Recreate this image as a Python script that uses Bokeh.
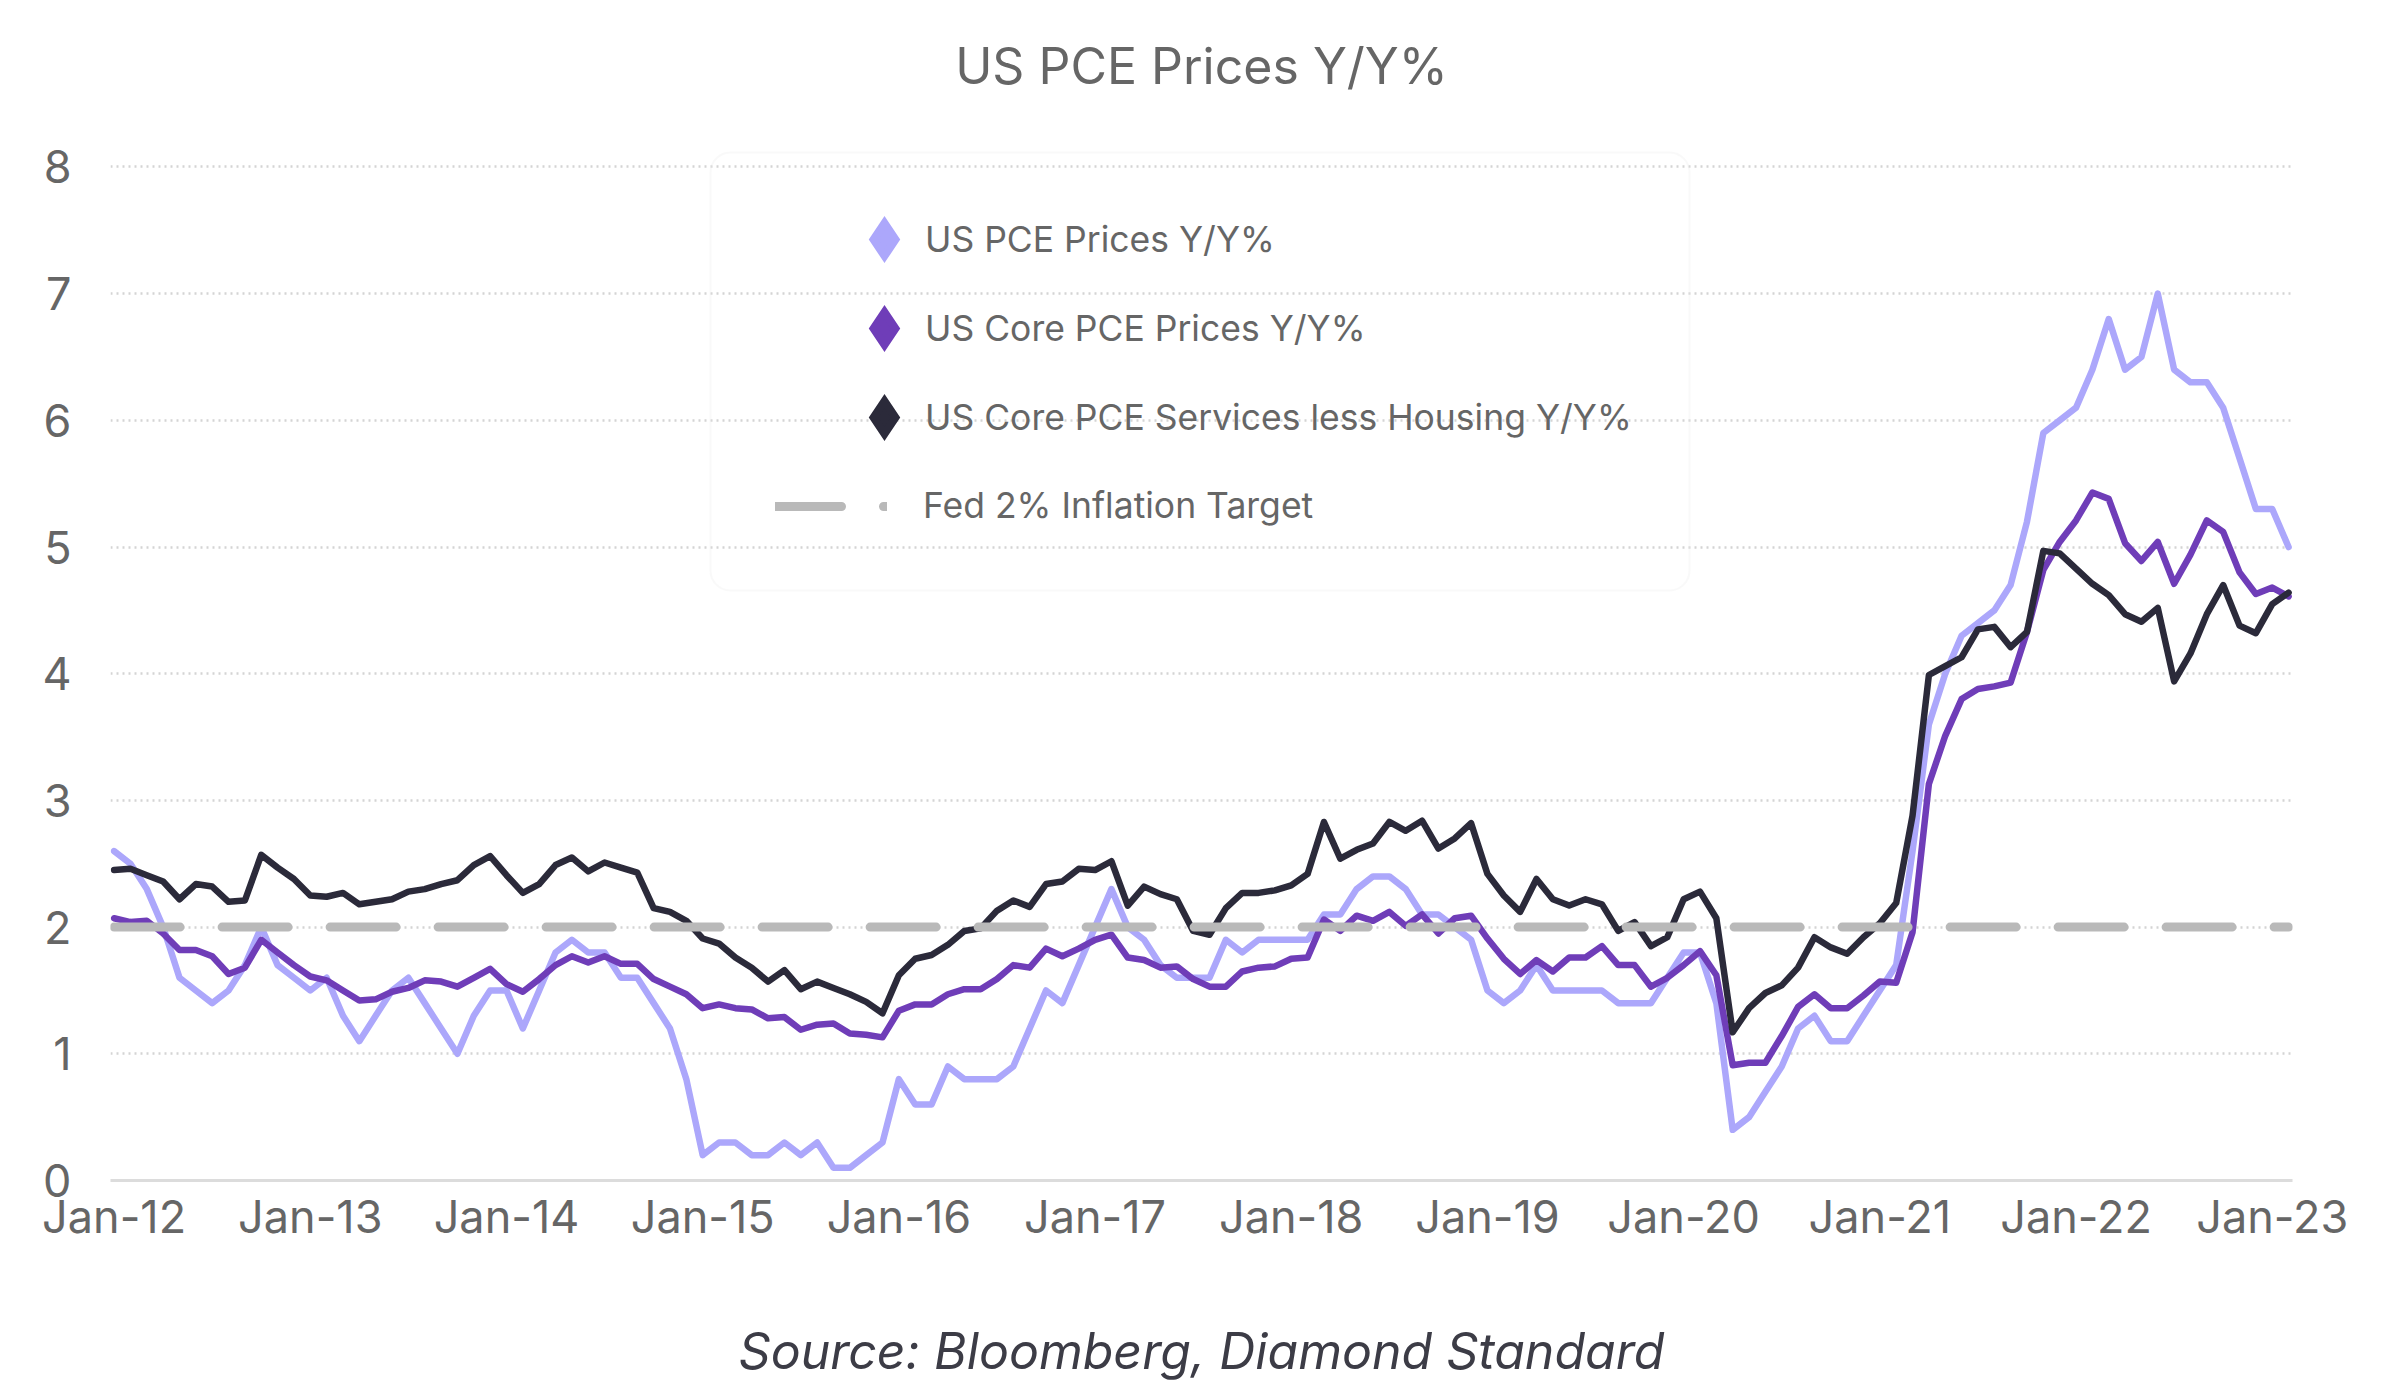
from bokeh.plotting import figure
from bokeh.models import (Range1d, FixedTicker, Legend, LegendItem, Title,
                          BoxAnnotation, ColumnDataSource)
from bokeh.embed import file_html
from bokeh.resources import INLINE

# ---------------- data (monthly, Y/Y %) ----------------
x_tick_labels = ["Jan-12", "Jan-13", "Jan-14", "Jan-15", "Jan-16", "Jan-17",
                 "Jan-18", "Jan-19", "Jan-20", "Jan-21", "Jan-22", "Jan-23"]
y_ticks = [0, 1, 2, 3, 4, 5, 6, 7, 8]

pce = [2.6, 2.5, 2.3, 2.0, 1.6, 1.5, 1.4, 1.5, 1.7, 2.0, 1.7, 1.6,
       1.5, 1.6, 1.3, 1.1, 1.3, 1.5, 1.6, 1.4, 1.2, 1.0, 1.3, 1.5,
       1.5, 1.2, 1.5, 1.8, 1.9, 1.8, 1.8, 1.6, 1.6, 1.4, 1.2, 0.8,
       0.2, 0.3, 0.3, 0.2, 0.2, 0.3, 0.2, 0.3, 0.1, 0.1, 0.2, 0.3,
       0.8, 0.6, 0.6, 0.9, 0.8, 0.8, 0.8, 0.9, 1.2, 1.5, 1.4, 1.7,
       2.0, 2.3, 2.0, 1.9, 1.7, 1.6, 1.6, 1.6, 1.9, 1.8, 1.9, 1.9,
       1.9, 1.9, 2.1, 2.1, 2.3, 2.4, 2.4, 2.3, 2.1, 2.1, 2.0, 1.9,
       1.5, 1.4, 1.5, 1.7, 1.5, 1.5, 1.5, 1.5, 1.4, 1.4, 1.4, 1.6,
       1.8, 1.8, 1.4, 0.4, 0.5, 0.7, 0.9, 1.2, 1.3, 1.1, 1.1, 1.3,
       1.5, 1.7, 2.6, 3.6, 4.0, 4.3, 4.4, 4.5, 4.7, 5.2, 5.9, 6.0,
       6.1, 6.4, 6.8, 6.4, 6.5, 7.0, 6.4, 6.3, 6.3, 6.1, 5.7, 5.3,
       5.3, 5.0]

core_pce = [2.07, 2.04, 2.05, 1.95, 1.82, 1.82, 1.77, 1.63, 1.68, 1.90, 1.80, 1.70,
            1.61, 1.58, 1.50, 1.42, 1.43, 1.49, 1.52, 1.58, 1.57, 1.53, 1.60, 1.67,
            1.55, 1.49, 1.59, 1.70, 1.77, 1.72, 1.77, 1.71, 1.71, 1.59, 1.53, 1.47,
            1.36, 1.39, 1.36, 1.35, 1.28, 1.29, 1.19, 1.23, 1.24, 1.16, 1.15, 1.13,
            1.34, 1.39, 1.39, 1.47, 1.51, 1.51, 1.59, 1.70, 1.68, 1.83, 1.77, 1.83,
            1.90, 1.94, 1.76, 1.74, 1.68, 1.69, 1.59, 1.53, 1.53, 1.65, 1.68, 1.69,
            1.75, 1.76, 2.06, 1.97, 2.09, 2.05, 2.12, 2.01, 2.10, 1.95, 2.07, 2.09,
            1.91, 1.75, 1.63, 1.74, 1.65, 1.76, 1.76, 1.85, 1.70, 1.70, 1.53, 1.60,
            1.70, 1.81, 1.62, 0.91, 0.93, 0.93, 1.14, 1.37, 1.47, 1.36, 1.36, 1.46,
            1.57, 1.56, 1.96, 3.13, 3.51, 3.80, 3.88, 3.90, 3.93, 4.33, 4.82, 5.04,
            5.21, 5.43, 5.38, 5.03, 4.89, 5.04, 4.71, 4.94, 5.21, 5.12, 4.80, 4.63,
            4.68, 4.61]

core_services_ex_housing = [
            2.45, 2.46, 2.41, 2.36, 2.22, 2.34, 2.32, 2.20, 2.21, 2.57, 2.47, 2.38,
            2.25, 2.24, 2.27, 2.18, 2.20, 2.22, 2.28, 2.30, 2.34, 2.37, 2.49, 2.56,
            2.41, 2.27, 2.34, 2.49, 2.55, 2.44, 2.51, 2.47, 2.43, 2.15, 2.12, 2.05,
            1.91, 1.87, 1.76, 1.68, 1.57, 1.66, 1.51, 1.57, 1.52, 1.47, 1.41, 1.32,
            1.62, 1.75, 1.78, 1.86, 1.97, 1.99, 2.13, 2.21, 2.16, 2.34, 2.36, 2.46,
            2.45, 2.52, 2.17, 2.32, 2.26, 2.22, 1.97, 1.94, 2.15, 2.27, 2.27, 2.29,
            2.33, 2.42, 2.83, 2.54, 2.61, 2.66, 2.83, 2.76, 2.84, 2.62, 2.70, 2.82,
            2.42, 2.25, 2.12, 2.38, 2.22, 2.17, 2.22, 2.18, 1.97, 2.04, 1.85, 1.92,
            2.22, 2.28, 2.07, 1.17, 1.36, 1.48, 1.54, 1.68, 1.92, 1.84, 1.79, 1.92,
            2.03, 2.19, 2.88, 3.99, 4.06, 4.13, 4.35, 4.37, 4.21, 4.33, 4.97, 4.95,
            4.83, 4.71, 4.62, 4.47, 4.41, 4.52, 3.94, 4.16, 4.47, 4.70, 4.38, 4.32,
            4.55, 4.64]

fed_target = 2.0

# ---------------- styling ----------------
FONT = "Inter"
C_PCE = "#aca7fb"
C_CORE = "#6f3db8"
C_SVC = "#2b2a3a"
C_FED = "#b9b9b9"
TXT = "#666666"
LW = 6.5

months = list(range(len(pce)))
src = ColumnDataSource(dict(m=months, pce=pce, core=core_pce, svc=core_services_ex_housing))
fed_src = ColumnDataSource(dict(m=[months[0], months[-1]], v=[fed_target, fed_target]))

W, H = 2400, 1382
p = figure(width=W, height=H, output_backend="svg", toolbar_location=None,
           x_range=Range1d(-0.22, 133.24), y_range=Range1d(0, 8.13),
           min_border_left=110, min_border_right=108, min_border_top=150,
           min_border_bottom=201)
p.outline_line_color = None
p.background_fill_color = "white"
p.border_fill_color = "white"
p.title.text = ""

# title (with a spacer between it and the plot area)
top_spacer = Title(text=" ", text_font_size="10px", standoff=40)
main_title = Title(text="US PCE Prices Y/Y%", align="center", vertical_align="top",
                   standoff=0, text_font=FONT, text_font_size="50px",
                   text_font_style="normal", text_color=TXT)
p.add_layout(top_spacer, "above")
p.add_layout(main_title, "above")

# axes
p.xaxis.ticker = FixedTicker(ticks=[12 * i for i in range(len(x_tick_labels))])
p.xaxis.major_label_overrides = {12 * i: lab for i, lab in enumerate(x_tick_labels)}
p.xaxis.major_tick_line_color = None
p.xaxis.major_tick_out = 0
p.xaxis.major_tick_in = 0
p.xaxis.minor_tick_line_color = None
p.xaxis.axis_line_color = "#dcdcdc"
p.xaxis.axis_line_width = 3
p.xaxis.major_label_text_font = FONT
p.xaxis.major_label_text_font_size = "45px"
p.xaxis.major_label_text_color = TXT
p.xaxis.major_label_standoff = 8

p.yaxis.ticker = FixedTicker(ticks=y_ticks)
p.yaxis.major_tick_line_color = None
p.yaxis.major_tick_out = 0
p.yaxis.major_tick_in = 0
p.yaxis.minor_tick_line_color = None
p.yaxis.axis_line_color = None
p.yaxis.major_label_text_font = FONT
p.yaxis.major_label_text_font_size = "45px"
p.yaxis.major_label_text_color = TXT
p.yaxis.major_label_standoff = 39

p.xgrid.grid_line_color = None
p.ygrid.ticker = FixedTicker(ticks=y_ticks)
p.ygrid.grid_line_color = "#d4d4d4"
p.ygrid.grid_line_width = 2.5
p.ygrid.grid_line_dash = "2 4"

# source line below the axis (with a spacer)
bottom_spacer = Title(text=" ", text_font_size="10px", standoff=61)
source_note = Title(text="Source: Bloomberg, Diamond Standard", align="center",
                    vertical_align="top", standoff=0, text_font=FONT,
                    text_font_size="50px", text_font_style="italic",
                    text_color="#3c3c46")
p.add_layout(bottom_spacer, "below")
p.add_layout(source_note, "below")

# series
r_pce = p.line("m", "pce", source=src, line_color=C_PCE, line_width=LW,
               line_join="round", line_cap="round")
r_core = p.line("m", "core", source=src, line_color=C_CORE, line_width=LW,
                line_join="round", line_cap="round")
r_svc = p.line("m", "svc", source=src, line_color=C_SVC, line_width=LW,
               line_join="round", line_cap="round")
r_fed = p.line("m", "v", source=fed_src, line_color=C_FED, line_width=9,
               line_dash="66 42", line_cap="round")

# hidden diamond renderers, used only for the legend symbols
k_pce = p.scatter("m", "pce", source=src, marker="diamond", size=10, fill_color=C_PCE,
                  line_color=C_PCE, line_width=8, line_join="miter", visible=False)
k_core = p.scatter("m", "core", source=src, marker="diamond", size=10, fill_color=C_CORE,
                   line_color=C_CORE, line_width=8, line_join="miter", visible=False)
k_svc = p.scatter("m", "svc", source=src, marker="diamond", size=10, fill_color=C_SVC,
                  line_color=C_SVC, line_width=8, line_join="miter", visible=False)

# legend frame (screen units, relative to the plot frame)
box = BoxAnnotation(left=600, right=1579, top=1028, bottom=590,
                    left_units="screen", right_units="screen",
                    top_units="screen", bottom_units="screen",
                    fill_alpha=0, line_color="#ebebeb", line_width=2)
try:
    box.border_radius = 20
except Exception:
    pass
p.add_layout(box)

legA = Legend(items=[LegendItem(label="US PCE Prices Y/Y%", renderers=[k_pce]),
                     LegendItem(label="US Core PCE Prices Y/Y%", renderers=[k_core]),
                     LegendItem(label="US Core PCE Services less Housing Y/Y%", renderers=[k_svc])],
              location=(733, 719), orientation="vertical",
              glyph_width=82, glyph_height=88, spacing=1, label_standoff=0,
              padding=0, border_line_color=None, background_fill_alpha=0,
              inactive_fill_alpha=0,
              label_text_font=FONT, label_text_font_size="35.5px", label_text_color=TXT)
legB = Legend(items=[LegendItem(label="Fed 2% Inflation Target", renderers=[r_fed])],
              location=(665, 653), orientation="vertical",
              glyph_width=112, glyph_height=40, label_height=40, label_standoff=36,
              padding=0, border_line_color=None, background_fill_alpha=0,
              label_text_font=FONT, label_text_font_size="35.5px", label_text_color=TXT)
p.add_layout(legA)
p.add_layout(legB)

open("out.html", "w").write(file_html(p, INLINE))
